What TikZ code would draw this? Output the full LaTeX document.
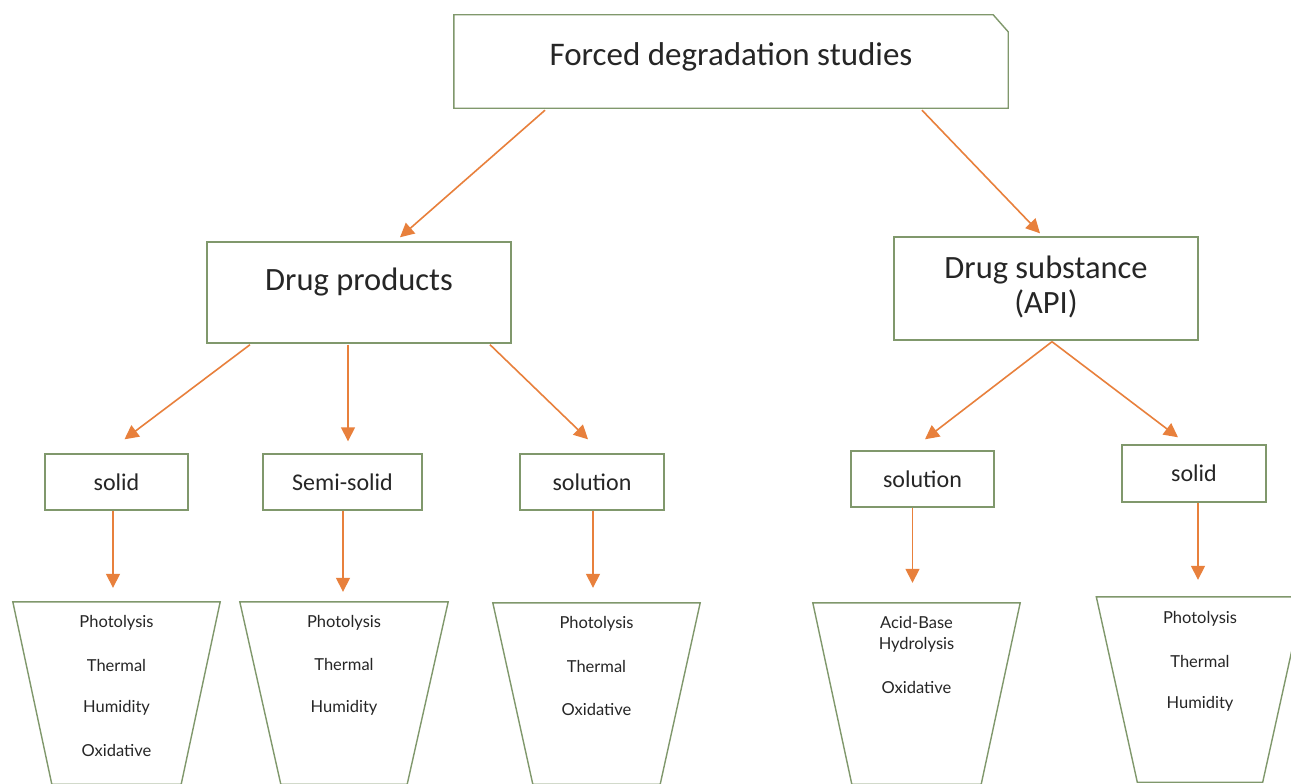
\documentclass[tikz,border=0pt]{standalone}
\usepackage{fontspec}
\setmainfont{Carlito}
\newfontfamily\latofont{Lato}
\usetikzlibrary{arrows.meta}
\definecolor{boxgreen}{RGB}{128,152,108}
\definecolor{arrorange}{RGB}{232,128,60}
\definecolor{txt}{RGB}{38,38,38}
\tikzset{
  box/.style={draw=boxgreen, line width=1.4pt, fill=white, rectangle, inner sep=0pt},
  bigtext/.style={font=\fontsize{32.5}{34}\selectfont, text=txt, inner sep=0pt},
  midtext/.style={font=\fontsize{24}{26}\selectfont, text=txt},
  trapframe/.style={rectangle, inner sep=0pt, draw=none},
  trapline/.style={draw=boxgreen, line width=1.4pt, fill=white},
  trtext/.style={font=\latofont\fontsize{16.5}{18}\selectfont, text=txt, inner sep=0pt},
  arr/.style={draw=arrorange, line width=1.6pt, -{Triangle[length=14pt,width=14pt]}},
}
\begin{document}
\begin{tikzpicture}[x=1pt,y=-1pt]
\fill[white] (0,0) rectangle (1291,784);
\useasboundingbox (0,0) rectangle (1291,784);

% top box with cut corner
\node[rectangle, minimum width=554pt, minimum height=93pt, inner sep=0pt] (top) at (731,61.5) {};
\draw[draw=boxgreen, line width=1.4pt, fill=white] (top.south west) -- (top.north west) -- ([xshift=-15pt]top.north east) -- ([yshift=-17pt]top.north east) -- (top.south east) -- cycle;
\node[bigtext, font=\fontsize{33}{34}\selectfont] (toptext) at ([yshift=5pt]top.center) {Forced degradation studies};

% second level
\node[box, minimum width=304pt, minimum height=101pt] (dp) at (359,292.5) {};
\node[bigtext] (dptext) at ([yshift=10pt]dp.center) {Drug products};
\node[box, minimum width=304pt, minimum height=103pt] (ds) at (1046,288.5) {};
\node[bigtext, align=center] (dstext) at ([yshift=2pt]ds.center) {Drug substance\\[1pt](API)};

% third level
\node[box, midtext, minimum width=143pt, minimum height=56pt] (s1) at (116.5,482) {solid};
\node[box, midtext, minimum width=159pt, minimum height=56pt] (s2) at (342.5,482) {Semi-solid};
\node[box, midtext, minimum width=144pt, minimum height=56pt] (s3) at (592,482) {solution};
\node[box, midtext, minimum width=143pt, minimum height=56pt] (s4) at (922.5,479) {solution};
\node[box, midtext, minimum width=144pt, minimum height=57pt] (s5) at (1194,473.5) {solid};

% trapezoids (frames, then outlines)
\node[trapframe, minimum width=207pt, minimum height=182pt] (t1) at (116.5,693) {};
\node[trapframe, minimum width=208pt, minimum height=182pt] (t2) at (344,693) {};
\node[trapframe, minimum width=207pt, minimum height=181pt] (t3) at (596.5,693.5) {};
\node[trapframe, minimum width=207pt, minimum height=181pt] (t4) at (916.5,693.5) {};
\node[trapframe, minimum width=207pt, minimum height=185pt] (t5) at (1200,689.5) {};
\foreach \t/\d in {t1/39,t2/41,t3/40,t4/39,t5/41}{
  \draw[trapline] (\t.north west) -- (\t.north east) -- ([xshift=-\d pt]\t.south east) -- ([xshift=\d pt]\t.south west) -- cycle;
}

\node[trtext] (t1a) at ([yshift=-21pt]t1.north) {Photolysis};
\node[trtext] (t1b) at ([yshift=-64pt]t1.north) {Thermal};
\node[trtext] (t1c) at ([yshift=-106pt]t1.north) {Humidity};
\node[trtext] (t1d) at ([yshift=-149pt]t1.north) {Oxidative};

\node[trtext] (t2a) at ([yshift=-21pt]t2.north) {Photolysis};
\node[trtext] (t2b) at ([yshift=-63pt]t2.north) {Thermal};
\node[trtext] (t2c) at ([yshift=-106pt]t2.north) {Humidity};

\node[trtext] (t3a) at ([yshift=-21pt]t3.north) {Photolysis};
\node[trtext] (t3b) at ([yshift=-64pt]t3.north) {Thermal};
\node[trtext] (t3c) at ([yshift=-107pt]t3.north) {Oxidative};

\node[trtext] (t4a) at ([yshift=-20pt]t4.north) {Acid-Base};
\node[trtext] (t4b) at ([yshift=-42pt]t4.north) {Hydrolysis};
\node[trtext] (t4c) at ([yshift=-85pt]t4.north) {Oxidative};

\node[trtext] (t5a) at ([yshift=-22pt]t5.north) {Photolysis};
\node[trtext] (t5b) at ([yshift=-65pt]t5.north) {Thermal};
\node[trtext] (t5c) at ([yshift=-107pt]t5.north) {Humidity};

% arrows
\draw[arr] ([xshift=-186pt,yshift=-2pt]top.south) -- ([xshift=41pt,yshift=4pt]dp.north);
\draw[arr] ([xshift=191pt,yshift=-2pt]top.south) -- ([xshift=-6pt,yshift=3pt]ds.north);

\draw[arr] ([xshift=-109pt,yshift=-1pt]dp.south) -- ([xshift=8pt,yshift=14pt]s1.north);
\draw[arr] ([xshift=-11pt,yshift=-1pt]dp.south) -- ([xshift=5.5pt,yshift=12pt]s2.north);
\draw[arr] ([xshift=131pt,yshift=-1pt]dp.south) -- ([xshift=-4pt,yshift=14pt]s3.north);

\draw[arr] ([xshift=6pt,yshift=-1pt]ds.south) -- ([xshift=2.5pt,yshift=11pt]s4.north);
\draw[arr] ([xshift=6pt,yshift=-1pt]ds.south) -- ([xshift=-16pt,yshift=7pt]s5.north);

\draw[arr] ([xshift=-3.5pt]s1.south) -- ([xshift=-3.5pt,yshift=14pt]s1.south |- t1.north);
\draw[arr] ([xshift=0.5pt]s2.south) -- ([xshift=0.5pt,yshift=10pt]s2.south |- t2.north);
\draw[arr] ([xshift=1pt]s3.south) -- ([xshift=1pt,yshift=15pt]s3.south |- t3.north);
\draw[arr] ([xshift=-10pt]s4.south) -- ([xshift=-10pt,yshift=20pt]s4.south |- t4.north);
\draw[arr] ([xshift=4pt]s5.south) -- ([xshift=4pt,yshift=17pt]s5.south |- t5.north);
\end{tikzpicture}
\end{document}
